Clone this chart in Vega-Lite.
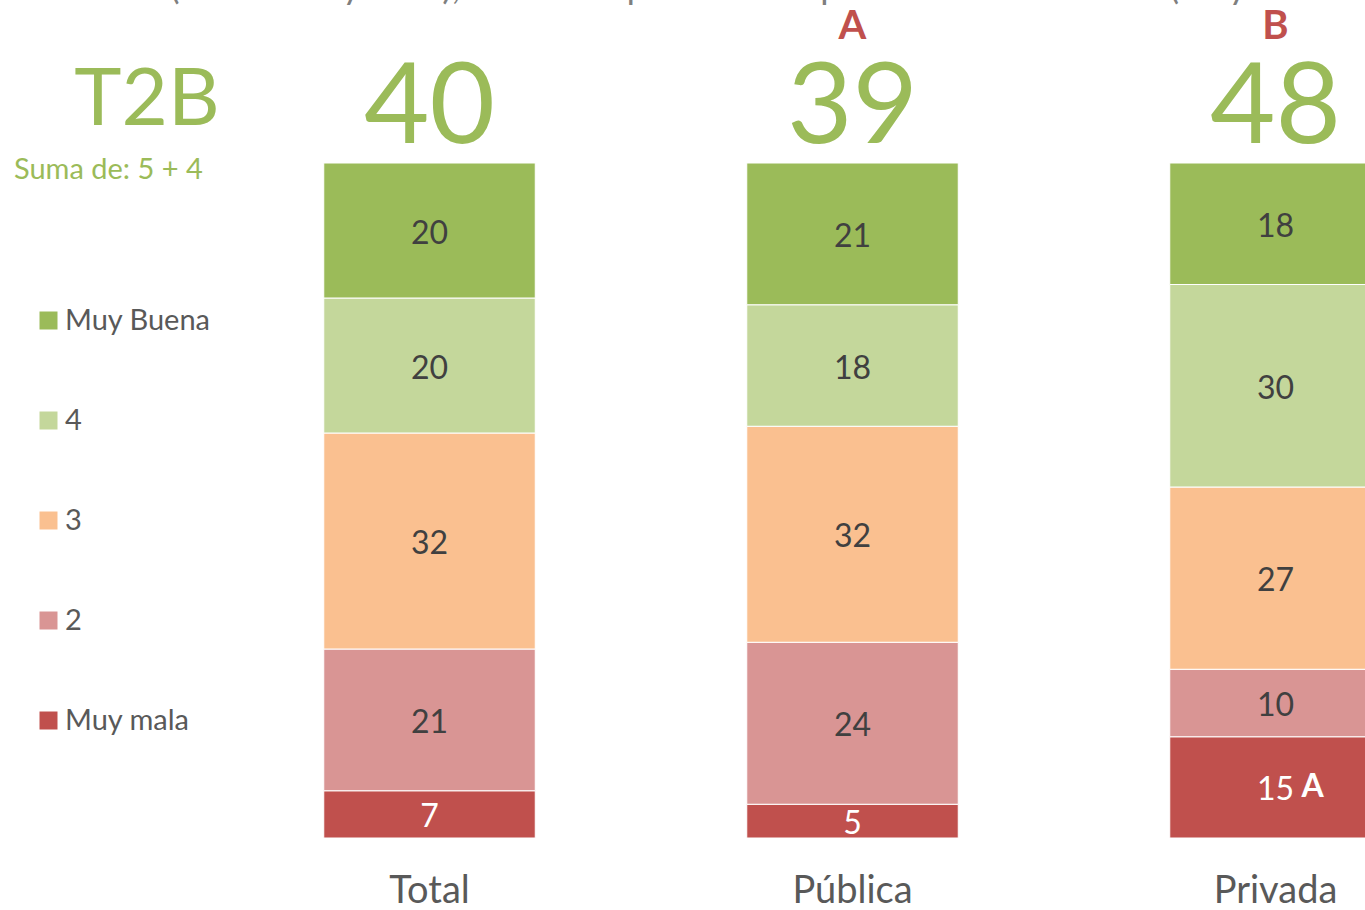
{
  "$schema": "https://vega.github.io/schema/vega-lite/v6.json",
  "width": 1365,
  "height": 910,
  "autosize": {"type": "none"},
  "padding": 0,
  "background": "white",
  "config": {
    "view": {"stroke": null},
    "font": "Lato",
    "legend": {
      "orient": "none",
      "legendX": 34,
      "legendY": 306,
      "symbolType": "square",
      "symbolSize": 324,
      "symbolStrokeWidth": 0,
      "symbolOpacity": 1,
      "labelFontSize": 29,
      "labelFont": "Lato",
      "labelColor": "#595959",
      "labelOffset": 2,
      "rowPadding": 70
    }
  },
  "datasets": {
    "bars": [
      {"grupo": "Total", "categoria": "Muy mala", "nivel": 1, "pct": 7},
      {"grupo": "Total", "categoria": "2", "nivel": 2, "pct": 21},
      {"grupo": "Total", "categoria": "3", "nivel": 3, "pct": 32},
      {"grupo": "Total", "categoria": "4", "nivel": 4, "pct": 20},
      {"grupo": "Total", "categoria": "Muy Buena", "nivel": 5, "pct": 20},
      {"grupo": "Pública", "categoria": "Muy mala", "nivel": 1, "pct": 5},
      {"grupo": "Pública", "categoria": "2", "nivel": 2, "pct": 24},
      {"grupo": "Pública", "categoria": "3", "nivel": 3, "pct": 32},
      {"grupo": "Pública", "categoria": "4", "nivel": 4, "pct": 18},
      {"grupo": "Pública", "categoria": "Muy Buena", "nivel": 5, "pct": 21},
      {"grupo": "Privada", "categoria": "Muy mala", "nivel": 1, "pct": 15, "sig": "A"},
      {"grupo": "Privada", "categoria": "2", "nivel": 2, "pct": 10},
      {"grupo": "Privada", "categoria": "3", "nivel": 3, "pct": 27},
      {"grupo": "Privada", "categoria": "4", "nivel": 4, "pct": 30},
      {"grupo": "Privada", "categoria": "Muy Buena", "nivel": 5, "pct": 18}
    ],
    "t2b": [
      {"grupo": "Total", "t2b": 40, "sig": ""},
      {"grupo": "Pública", "t2b": 39, "sig": "A"},
      {"grupo": "Privada", "t2b": 48, "sig": "B"}
    ],
    "notas": [
      {"texto": "T2B", "tipo": "titulo"},
      {"texto": "Suma de: 5 + 4", "tipo": "sub"},
      {"texto": "(mala + muy mala), mientras que el 48% opina todo lo contrario (muy buena + buena).", "tipo": "cabecera"}
    ]
  },
  "layer": [
    {
      "data": {"name": "bars"},
      "mark": {"type": "bar", "clip": true, "stroke": "white", "strokeWidth": 1},
      "encoding": {
        "x": {"field": "grupo", "type": "nominal", "axis": null,
              "scale": {"domain": ["Total", "Pública", "Privada"], "range": [218, 1487], "paddingInner": 0.5, "paddingOuter": 0.25}},
        "y": {"field": "pct", "type": "quantitative", "stack": "zero", "axis": null,
              "scale": {"domain": [0, 100], "range": [838, 163], "nice": false}},
        "color": {"field": "categoria", "type": "nominal", "title": null,
                  "scale": {"domain": ["Muy Buena", "4", "3", "2", "Muy mala"],
                            "range": ["#9BBB59", "#C4D79B", "#FAC090", "#D99594", "#C0504D"]}},
        "order": {"field": "nivel", "type": "quantitative", "sort": "ascending"}
      }
    },
    {
      "data": {"name": "bars"},
      "mark": {"type": "text", "fontSize": 32, "baseline": "middle", "align": "center", "dy": 3, "font": "Lato"},
      "encoding": {
        "x": {"field": "grupo", "type": "nominal"},
        "y": {"field": "pct", "type": "quantitative", "stack": "zero", "bandPosition": 0.5},
        "detail": {"field": "categoria", "type": "nominal"},
        "order": {"field": "nivel", "type": "quantitative", "sort": "ascending"},
        "text": {"field": "pct", "type": "quantitative"},
        "color": {"condition": {"test": "datum.categoria == 'Muy mala'", "value": "white"}, "value": "#404040"}
      }
    },
    {
      "data": {"name": "bars"},
      "transform": [{"filter": "datum.sig"}],
      "mark": {"type": "text", "fontSize": 32, "fontWeight": "bold", "baseline": "middle", "align": "left", "dx": 26, "dy": 0, "color": "white", "font": "Lato"},
      "encoding": {
        "x": {"field": "grupo", "type": "nominal"},
        "y": {"field": "pct", "type": "quantitative", "stack": "zero", "bandPosition": 0.5},
        "detail": {"field": "categoria", "type": "nominal"},
        "order": {"field": "nivel", "type": "quantitative", "sort": "ascending"},
        "text": {"field": "sig"}
      }
    },
    {
      "data": {"name": "t2b"},
      "mark": {"type": "text", "fontSize": 113, "baseline": "alphabetic", "align": "center", "color": "#9BBB59", "font": "Lato"},
      "encoding": {
        "x": {"field": "grupo", "type": "nominal"},
        "y": {"datum": 103, "type": "quantitative"},
        "text": {"field": "t2b"}
      }
    },
    {
      "data": {"name": "t2b"},
      "mark": {"type": "text", "fontSize": 40, "fontWeight": "bold", "baseline": "alphabetic", "align": "center", "color": "#C0504D", "font": "Lato"},
      "encoding": {
        "x": {"field": "grupo", "type": "nominal"},
        "y": {"datum": 118.3, "type": "quantitative"},
        "text": {"field": "sig"}
      }
    },
    {
      "data": {"name": "t2b"},
      "mark": {"type": "text", "fontSize": 38, "baseline": "alphabetic", "align": "center", "color": "#595959", "font": "Lato"},
      "encoding": {
        "x": {"field": "grupo", "type": "nominal"},
        "y": {"datum": -9.6, "type": "quantitative"},
        "text": {"field": "grupo"}
      }
    },
    {
      "data": {"name": "notas"},
      "transform": [{"filter": "datum.tipo == 'titulo'"}],
      "mark": {"type": "text", "fontSize": 80, "baseline": "alphabetic", "align": "center", "color": "#9BBB59", "font": "Lato"},
      "encoding": {
        "x": {"value": 147},
        "y": {"value": 125},
        "text": {"field": "texto"}
      }
    },
    {
      "data": {"name": "notas"},
      "transform": [{"filter": "datum.tipo == 'sub'"}],
      "mark": {"type": "text", "fontSize": 29, "baseline": "alphabetic", "align": "left", "color": "#9BBB59", "font": "Lato"},
      "encoding": {
        "x": {"value": 14},
        "y": {"value": 179},
        "text": {"field": "texto"}
      }
    },
    {
      "data": {"name": "notas"},
      "transform": [{"filter": "datum.tipo == 'cabecera'"}],
      "mark": {"type": "text", "fontSize": 36, "baseline": "alphabetic", "align": "left", "color": "#7F7F7F", "font": "Lato"},
      "encoding": {
        "x": {"value": 170},
        "y": {"value": -1},
        "text": {"field": "texto"}
      }
    }
  ]
}
